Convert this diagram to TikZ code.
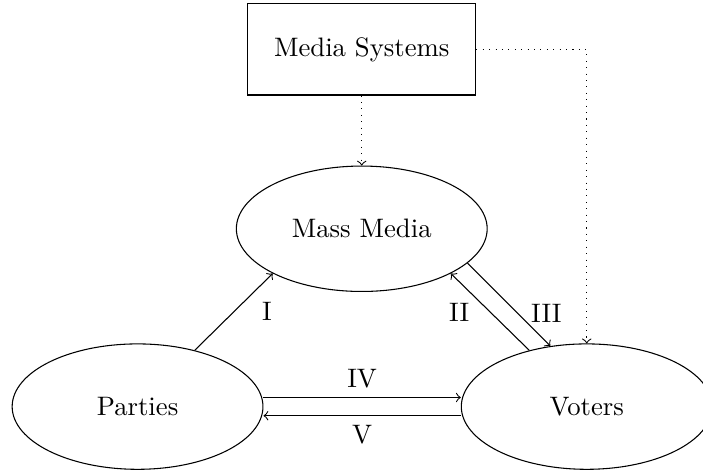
\documentclass[tikz,border=0pt]{standalone}
\usetikzlibrary{shapes.geometric}
\begin{document}
\begin{tikzpicture}[>=to,
  actor/.style={draw,ellipse,minimum width=3.3cm,minimum height=1.65cm},
  sysbox/.style={draw,rectangle,minimum width=3cm,minimum height=1.2cm}]
  \useasboundingbox (-4.76,-3.2) rectangle (4.49,3.01);
  % actors
  \node[sysbox] (system) at (0,2.36) {Media Systems};
  \node[actor] (media) at (0,0) {Mass Media};
  \node[actor] (parties) at (-2.95,-2.34) {Parties};
  \node[actor] (voters) at (2.96,-2.34) {Voters};
  % influences
  \draw[->] (parties) -- (media.south west) node[midway,right=2.5mm] {I};
  \draw[->] (voters) -- (media.south east) node[midway,left=1.5mm] {II};
  \draw[->] (media.-18) -- (voters.121) node[pos=0.6,right=0.6mm] {III};
  \draw[->] ([yshift=0.12cm]parties.east) -- ([yshift=0.12cm]voters.west) node[midway,above] {IV};
  \draw[->] ([yshift=-0.12cm]voters.west) -- ([yshift=-0.12cm]parties.east) node[midway,below] {V};
  \draw[->,dotted] (system) -- (media);
  \draw[->,dotted] (system.east) -| (voters.north);
\end{tikzpicture}
\end{document}
